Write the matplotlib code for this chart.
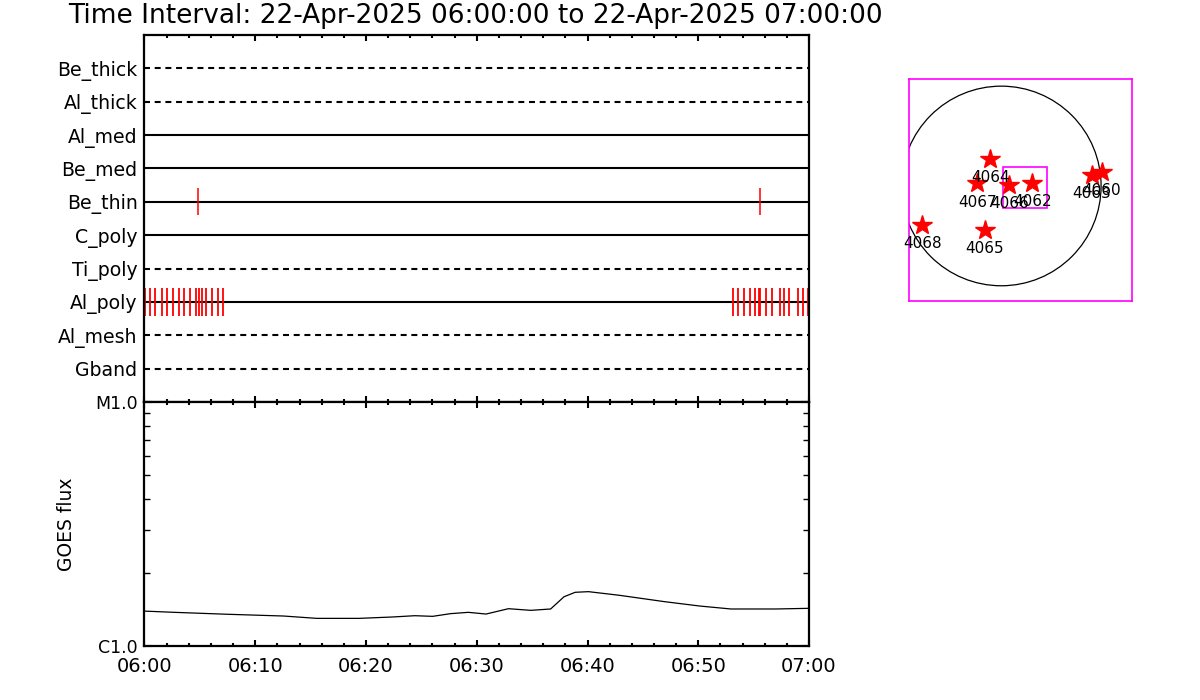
import matplotlib
matplotlib.use("Agg")
import matplotlib.pyplot as plt
import numpy as np
from matplotlib.ticker import MultipleLocator, FixedLocator, LogLocator, NullFormatter
from matplotlib.patches import Circle, Rectangle

plt.rcParams['font.family'] = ['DejaVu Sans']
plt.rcParams['lines.scale_dashes'] = False

# ---------------- data ----------------
title = "Time Interval: 22-Apr-2025 06:00:00 to 22-Apr-2025 07:00:00"

# detector rows, top to bottom
channels = ["Be_thick", "Al_thick", "Al_med", "Be_med", "Be_thin",
            "C_poly", "Ti_poly", "Al_poly", "Al_mesh", "Gband"]
channel_dashed = [True, True, False, False, False, False, True, False, True, True]

# exposure times (minutes after 06:00) per channel
be_thin_times = [4.86, 55.58]
al_poly_times = [0.05, 0.52, 0.98, 1.58, 2.06, 2.57, 3.09, 3.59, 4.08, 4.62,
                 4.92, 5.16, 5.58, 6.09, 6.61, 7.12,
                 53.11, 53.62, 54.13, 54.65, 55.10, 55.46, 55.60, 56.14, 56.63,
                 57.35, 57.77, 58.22, 58.98, 59.43, 59.88]

# GOES flux (minutes after 06:00, W/m^2)
goes_t = [0.0, 2.69, 7.52, 12.55, 15.56, 19.38, 22.4, 24.41, 26.02, 27.63,
          29.24, 30.84, 32.86, 34.87, 36.67, 37.88, 38.89, 40.09, 42.91,
          46.93, 50.15, 52.96, 54.97, 56.98, 60.0]
goes_flux = [1.39e-6, 1.374e-6, 1.349e-6, 1.327e-6, 1.298e-6, 1.298e-6, 1.315e-6,
             1.331e-6, 1.323e-6, 1.357e-6, 1.374e-6, 1.352e-6, 1.422e-6, 1.40e-6,
             1.418e-6, 1.592e-6, 1.66e-6, 1.67e-6, 1.613e-6, 1.52e-6, 1.458e-6,
             1.418e-6, 1.418e-6, 1.418e-6, 1.427e-6]

time_ticks = [0, 10, 20, 30, 40, 50, 60]
time_labels = ["06:00", "06:10", "06:20", "06:30", "06:40", "06:50", "07:00"]
goes_ticks = [1e-6, 1e-5]
goes_labels = ["C1.0", "M1.0"]

# active regions (heliocentric arcsec)
ar_numbers = ["4064", "4067", "4066", "4062", "4063", "4060", "4068", "4065"]
ar_x = [-106, -227, 77, 295, 860, 955, -750, -157]
ar_y = [261, 24, 8, 29, 103, 134, -372, -420]
r_sun = 950
fov_x = [20, 432]
fov_y = [-214, 181]
map_xlim = [-875, 1245]
map_ylim = [-1095, 1015]

# ---------------- figure ----------------
fig = plt.figure(figsize=(12, 7), dpi=100)
L, W = 0.1204, 0.5538
ax1 = fig.add_axes([L, 0.42571, W, 0.52429])
ax2 = fig.add_axes([L, 0.07714, W, 0.34857])

fig.text(0.396, 0.977, title, ha='center', va='center', fontsize=19)

# --- top panel ---
n = len(channels)
ypos = [n - i for i in range(n)]
for y, dashed in zip(ypos, channel_dashed):
    if dashed:
        ax1.plot([0, 60], [y, y], color='black', lw=1.5, ls=(0, (4.3, 3.4)))
    else:
        ax1.plot([0, 60], [y, y], color='black', lw=1.5)

y_bt = ypos[channels.index("Be_thin")]
y_ap = ypos[channels.index("Al_poly")]
ax1.vlines(be_thin_times, y_bt - 0.41, y_bt + 0.41, color='red', lw=1.1)
ax1.vlines(al_poly_times, y_ap - 0.41, y_ap + 0.41, color='red', lw=1.3)

ax1.set_xlim(0, 60)
ax1.set_ylim(0, n + 1)
ax1.set_yticks(ypos)
ax1.set_yticklabels(channels, fontsize=13.6)
ax1.tick_params(axis='y', length=0, pad=5)
ax1.xaxis.set_major_locator(MultipleLocator(10))
ax1.xaxis.set_minor_locator(MultipleLocator(2))
ax1.tick_params(axis='x', which='both', direction='in', top=True, bottom=True,
                labelbottom=False, width=1.5)
ax1.tick_params(axis='x', which='major', length=4.3)
ax1.tick_params(axis='x', which='minor', length=2.2)
for s in ax1.spines.values():
    s.set_linewidth(1.6)

# --- GOES panel ---
ax2.plot(goes_t, goes_flux, color='black', lw=0.9)
ax2.set_yscale('log')
ax2.set_xlim(0, 60)
ax2.set_ylim(1e-6, 1e-5)
ax2.yaxis.set_major_locator(FixedLocator(goes_ticks))
ax2.set_yticklabels(goes_labels, fontsize=12.5)
ax2.yaxis.set_minor_locator(LogLocator(base=10, subs=np.arange(2, 10)))
ax2.yaxis.set_minor_formatter(NullFormatter())
ax2.tick_params(axis='y', which='both', direction='in', left=True, right=True, width=1.0, pad=5)
ax2.tick_params(axis='y', which='major', length=6, width=1.5)
ax2.tick_params(axis='y', which='minor', length=4.3)
ax2.set_xticks(time_ticks)
ax2.set_xticklabels(time_labels, fontsize=14)
ax2.xaxis.set_minor_locator(MultipleLocator(2))
ax2.tick_params(axis='x', which='both', direction='in', top=True, bottom=True, width=1.5, pad=8)
ax2.tick_params(axis='x', which='major', length=4.3)
ax2.tick_params(axis='x', which='minor', length=2.2)
ax2.set_ylabel("GOES flux", fontsize=13.5)
ax2.yaxis.set_label_coords(-0.103, 0.5)
for s in ax2.spines.values():
    s.set_linewidth(1.6)

# --- solar map ---
ax3 = fig.add_axes([0.7578, 0.57, 0.1856, 0.3167])
ax3.set_xlim(*map_xlim)
ax3.set_ylim(*map_ylim)
ax3.add_patch(Circle((0, 0), r_sun, fill=False, ec='black', lw=0.9))
ax3.add_patch(Rectangle((fov_x[0], fov_y[0]), fov_x[1] - fov_x[0], fov_y[1] - fov_y[0],
                        fill=False, ec='#ff00ff', lw=1.2))
ax3.plot(ar_x, ar_y, ls='none', marker='*', color='red', markersize=15, mec='red')
for num, x, y in zip(ar_numbers, ar_x, ar_y):
    ax3.annotate(num, (x, y), xytext=(0, -13.5), textcoords='offset points',
                 ha='center', va='center', fontsize=11)
ax3.set_xticks([])
ax3.set_yticks([])
for s in ax3.spines.values():
    s.set_color('#ff00ff')
    s.set_linewidth(1.2)

fig.savefig("out.png", dpi=100)
